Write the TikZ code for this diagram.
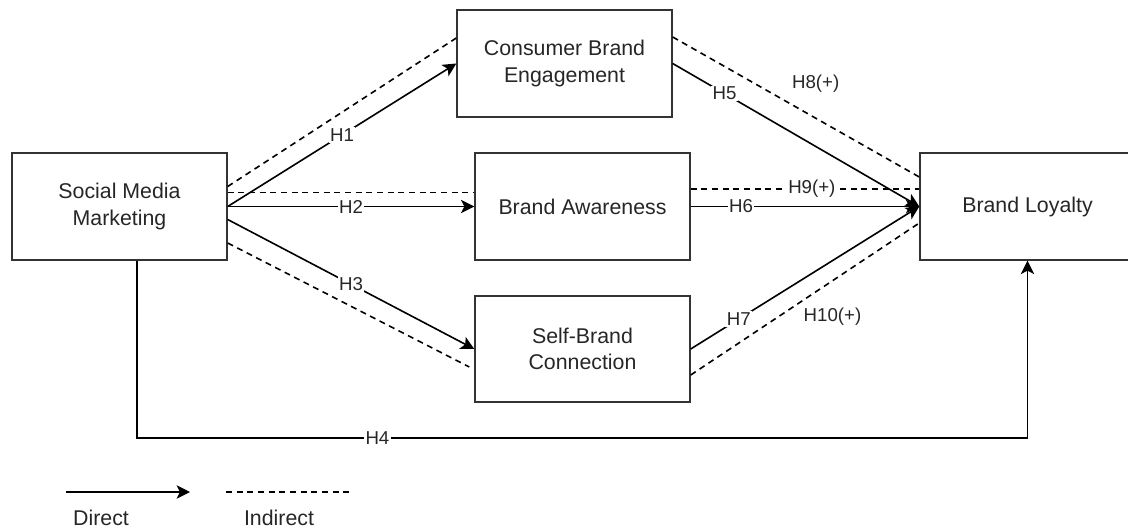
\documentclass[tikz,border=0pt]{standalone}
\usepackage{fontspec}
\setmainfont{Liberation Sans}
\usetikzlibrary{arrows.meta,calc}

\tikzset{
  box/.style={draw=black!80, line width=1.3pt, minimum width=161pt, minimum height=80pt,
    align=center, text=black!85, font=\fontsize{16}{20}\selectfont},
  direct/.style={line width=1.2pt, -{Stealth[length=10pt,width=10pt,inset=2.5pt]}},
  indirect/.style={line width=1.2pt, dash pattern=on 4.5pt off 3.5pt},
  hyp/.style={fill=white, inner sep=1pt, text=black!85, font=\fontsize{14}{16}\selectfont},
  legend/.style={text=black!85, font=\fontsize{16}{18}\selectfont}
}

\begin{document}
\begin{tikzpicture}[x=0.75pt,y=-0.75pt]
\useasboundingbox (0,0) rectangle (1128,529);
% constructs
\node[box] (smm) at (119.5,206.5) {Social Media\\Marketing};
\node[box] (cbe) at (564.5,63.5) {Consumer Brand\\Engagement};
\node[box] (ba) at (582.5,206.5) {Brand Awareness};
\node[box] (sbc) at (582.5,349) {Self-Brand\\Connection};
\node[box] (bl) at (1027.5,206.5) {Brand Loyalty};

% direct effects
\draw[direct] (smm.east) -- node[hyp]{H1} (cbe.west);
\draw[direct] (smm.east) -- node[hyp]{H2} (ba.west);
\draw[direct] ($(smm.east)+(0,13)$) -- node[hyp]{H3} (sbc.west);
\coordinate (h4) at (137,438);
\draw[direct] ($(smm.south)+(17.5,0)$) -- (h4) -- node[hyp,pos=0.27]{H4} (h4 -| bl.south) -- (bl.south);
\draw[direct] (cbe.east) -- node[hyp,pos=0.21]{H5} (bl.west);
\draw[direct] (ba.east) -- node[hyp,pos=0.22]{H6} (bl.west);
\draw[direct] (sbc.east) -- node[hyp,pos=0.21]{H7} (bl.west);

% indirect (mediated) effects
\draw[indirect] ($(smm.east)+(0,-20)$) -- ($(cbe.west)+(0,-25.5)$);
\draw[indirect] ($(smm.east)+(0,-14)$) -- ($(ba.west)+(0,-14)$);
\draw[indirect] ($(smm.east)+(0,36.5)$) -- ($(sbc.west)+(-5,18)$);
\draw[indirect] ($(cbe.east)+(0,-26.5)$) -- node[hyp,fill=none,pos=0.58,yshift=26pt]{H8(+)} ($(bl.west)+(0,-29.5)$);
\draw[indirect] ($(ba.east)+(0,-17.5)$) -- node[hyp,pos=0.53]{H9(+)} ($(bl.west)+(0,-17.5)$);
\draw[indirect] ($(sbc.east)+(0,26)$) -- node[hyp,fill=none,pos=0.62,yshift=-27pt]{H10(+)} ($(bl.west)+(0,16.5)$);

% legend
\coordinate (dirA) at (66,492);
\coordinate (dirB) at (190,492);
\coordinate (indA) at (226,492);
\coordinate (indB) at (349,492);
\draw[direct] (dirA) -- (dirB);
\draw[indirect] (indA) -- (indB);
\node[legend] (dirtxt) at (101,518) {Direct};
\node[legend] (indtxt) at (279,518) {Indirect};
\end{tikzpicture}
\end{document}
